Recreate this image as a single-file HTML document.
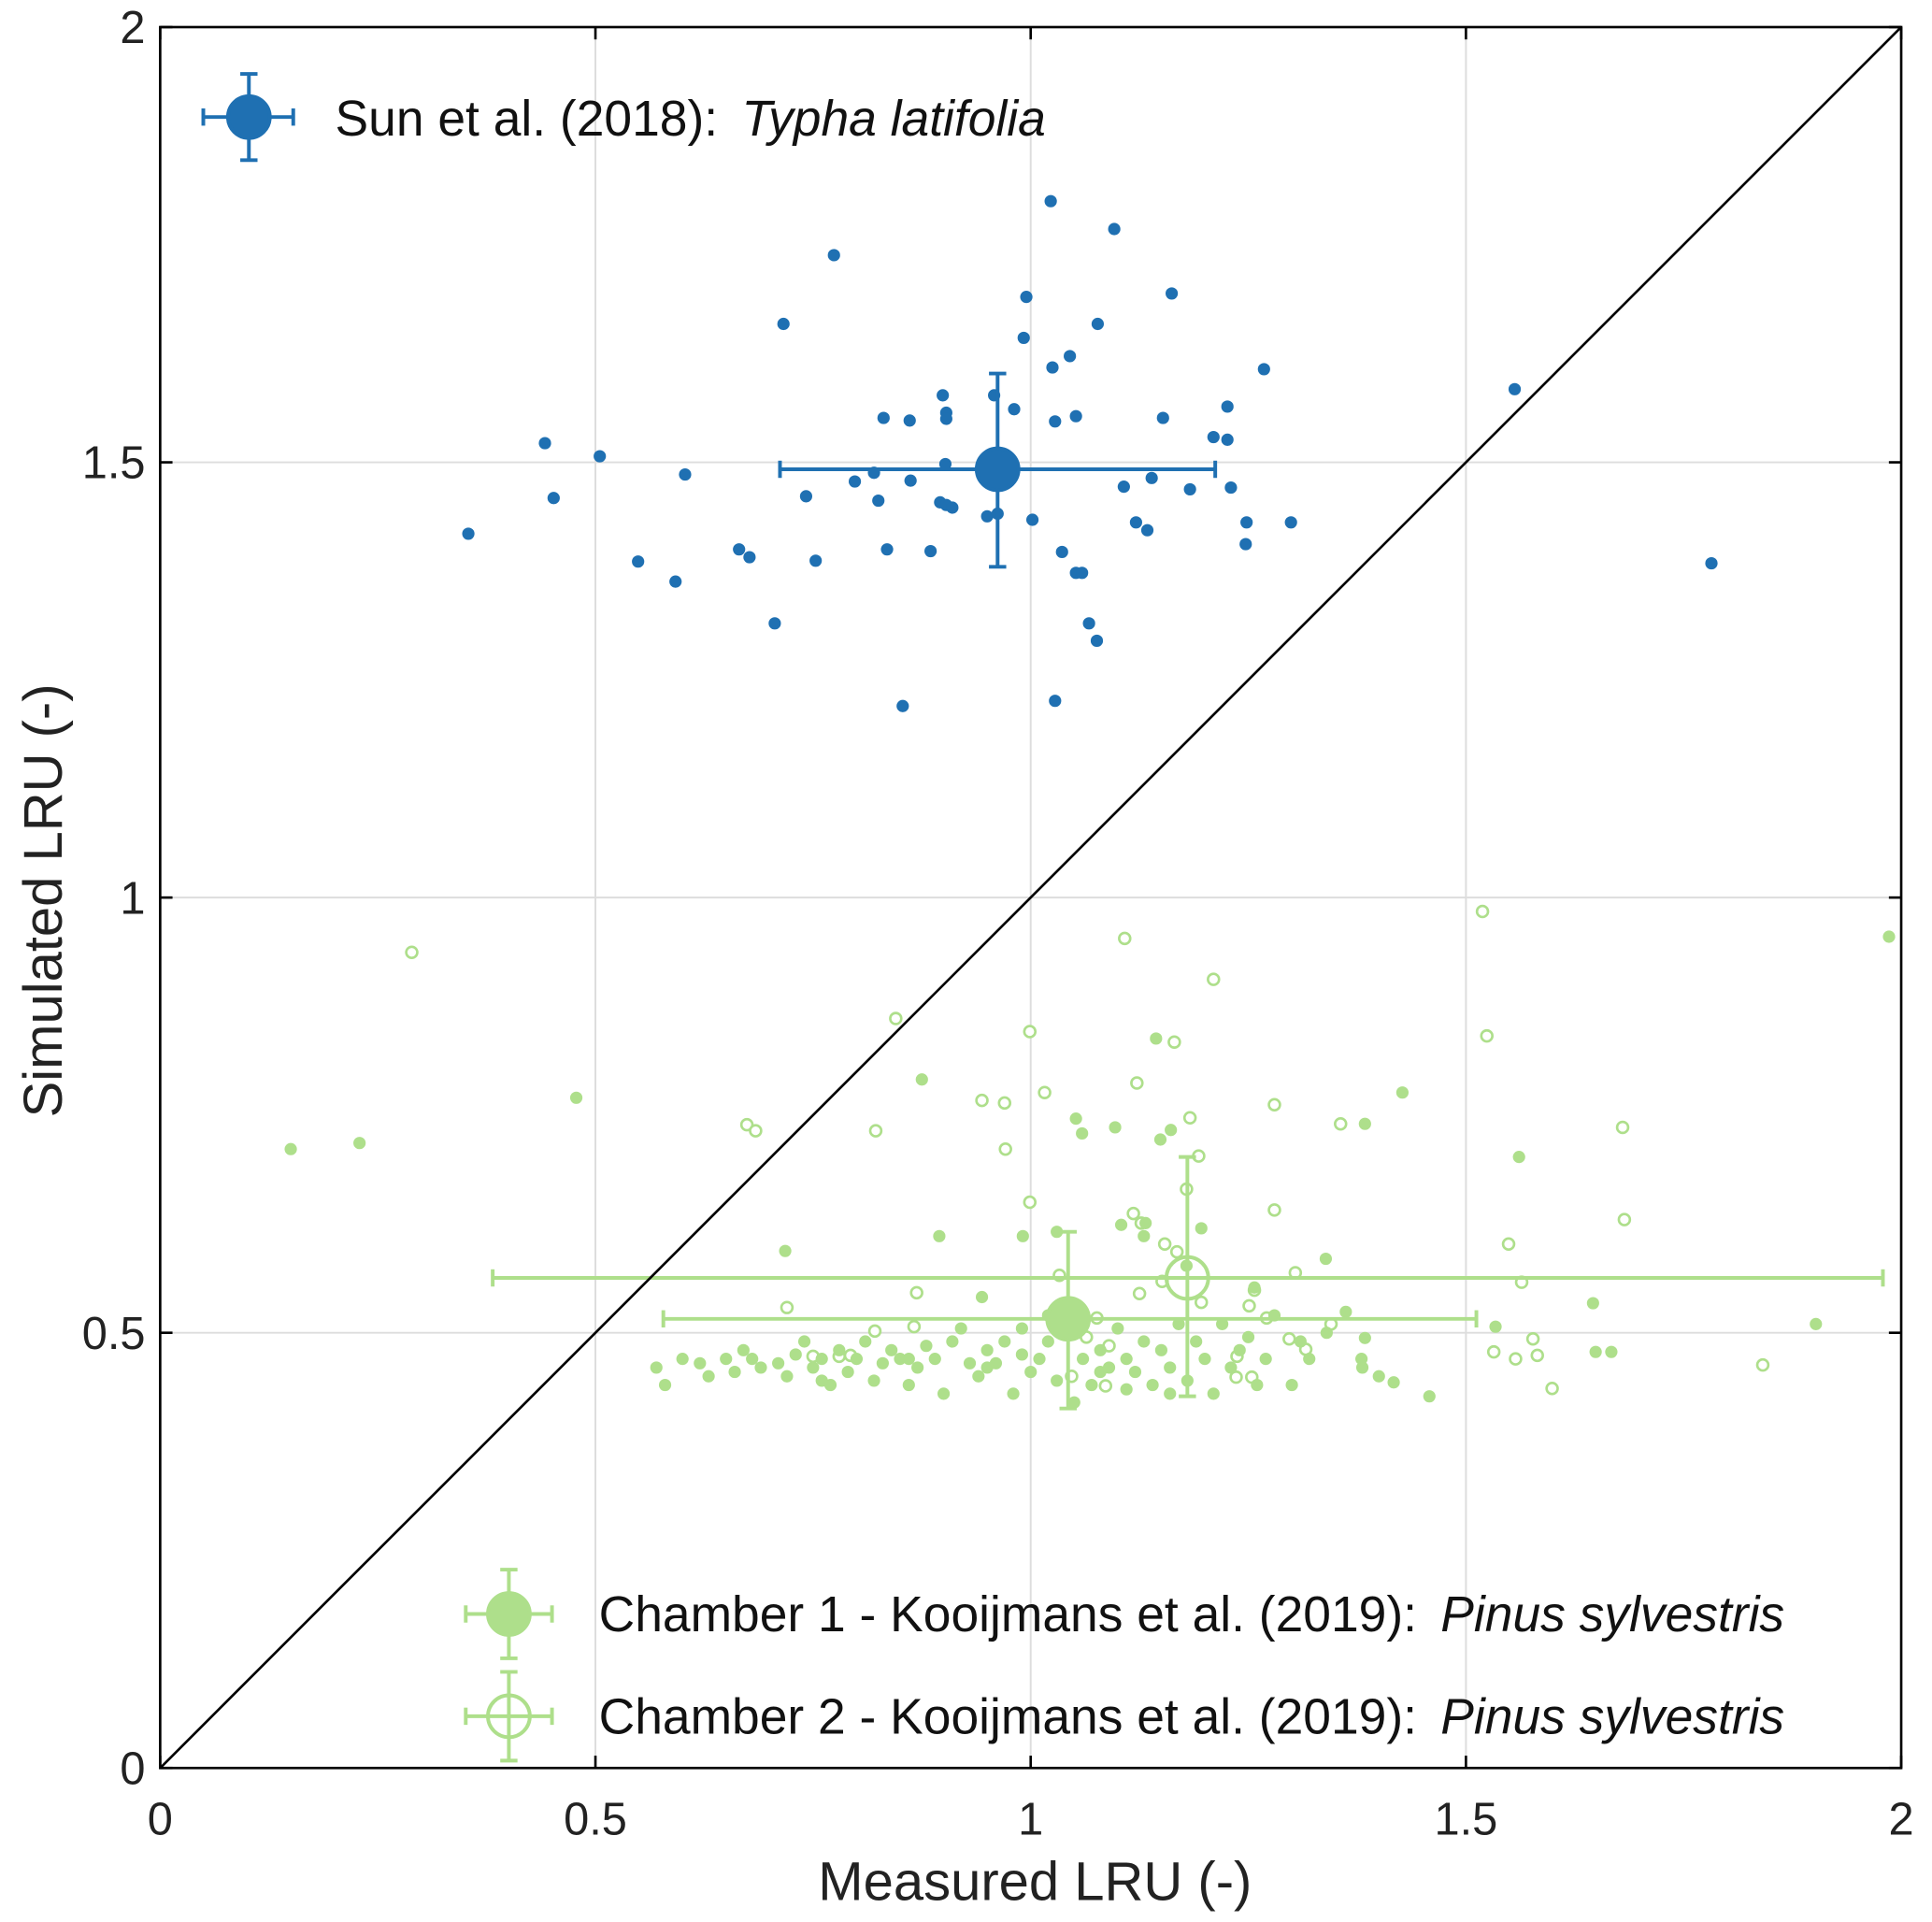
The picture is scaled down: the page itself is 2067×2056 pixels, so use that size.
<!DOCTYPE html>
<html><head><meta charset="utf-8"><style>
html,body{margin:0;padding:0;background:#fff;}
svg{display:block;font-family:"Liberation Sans",Arial,sans-serif;}
</style></head><body>
<svg id="chart" width="2067" height="2056" viewBox="0 0 1568 1560" preserveAspectRatio="none" xmlns="http://www.w3.org/2000/svg">
<g id="grid"></g>
<g id="series"></g>
<g id="axes"></g>
<g id="legend"></g>
</svg>
<script>
const xTicks=[0,0.5,1,1.5,2];
const yTicks=[0,0.5,1,1.5,2];
const xTickLabels=["0","0.5","1","1.5","2"];
const yTickLabels=["0","0.5","1","1.5","2"];
const sunX=[0.354,0.442,0.452,0.505,0.549,0.592,0.603,0.665,0.677,0.706,0.716,0.742,0.753,0.774,0.798,0.820,0.825,0.831,0.835,0.853,0.861,0.862,0.885,0.899,0.903,0.903,0.902,0.896,0.903,0.910,0.950,0.958,0.962,0.981,0.992,0.995,1.002,1.025,1.028,1.028,1.036,1.045,1.052,1.052,1.059,1.067,1.076,1.077,1.096,1.107,1.121,1.134,1.139,1.152,1.162,1.183,1.210,1.226,1.226,1.230,1.248,1.247,1.268,1.299,1.556,1.782,1.023];
const sunY=[1.418,1.522,1.459,1.507,1.386,1.363,1.486,1.400,1.391,1.315,1.659,1.461,1.387,1.738,1.478,1.488,1.456,1.551,1.400,1.220,1.548,1.479,1.398,1.577,1.557,1.550,1.498,1.454,1.451,1.448,1.438,1.577,1.441,1.561,1.643,1.690,1.434,1.609,1.547,1.226,1.397,1.622,1.553,1.373,1.373,1.315,1.295,1.659,1.768,1.472,1.431,1.422,1.482,1.551,1.694,1.469,1.529,1.564,1.526,1.471,1.431,1.406,1.607,1.431,1.584,1.384,1.800];
const sunMean=[0.962,1.492];const sunXErr=[0.712,1.212];const sunYErr=[1.380,1.602];
const c1X=[0.150,0.229,0.478,0.718,0.875,0.895,0.944,0.991,1.030,1.052,1.059,1.097,1.104,1.144,1.149,1.161,1.196,1.130,1.132,1.179,1.257,1.339,1.427,1.384,1.534,1.561,1.646,1.649,1.667,1.902,1.986,1.362,1.417,1.381,1.458,1.384,
0.57,0.58,0.62,0.65,0.66,0.68,0.69,0.71,0.72,0.74,0.75,0.76,0.78,0.79,0.80,0.81,0.82,0.83,0.84,0.85,0.86,0.87,0.88,0.89,0.90,0.91,0.92,0.93,0.94,0.95,0.96,0.97,0.98,0.99,1.00,1.01,1.02,1.03,1.04,1.05,1.06,1.07,1.08,1.09,1.10,1.11,1.12,1.13,1.14,1.15,1.16,1.17,1.18,1.19,1.20,1.21,1.22,1.23,1.24,1.25,1.26,1.27,1.28,1.30,1.31,1.32,1.34,1.38,1.40,0.60,0.63,0.67,0.73,0.77,1.05,1.02,0.99,0.95,1.11,1.16,0.76,0.86,1.08];
const c1Y=[0.711,0.718,0.770,0.594,0.791,0.611,0.541,0.611,0.616,0.746,0.729,0.736,0.624,0.838,0.722,0.733,0.620,0.611,0.626,0.577,0.552,0.585,0.776,0.740,0.507,0.702,0.534,0.478,0.478,0.510,0.955,0.524,0.443,0.460,0.427,0.494,
0.46,0.44,0.465,0.47,0.455,0.47,0.46,0.465,0.45,0.49,0.46,0.47,0.48,0.455,0.47,0.49,0.445,0.465,0.48,0.47,0.44,0.46,0.485,0.47,0.43,0.49,0.505,0.465,0.45,0.48,0.465,0.49,0.43,0.475,0.455,0.47,0.49,0.445,0.53,0.50,0.47,0.44,0.48,0.46,0.505,0.47,0.455,0.49,0.44,0.48,0.46,0.51,0.445,0.49,0.47,0.43,0.51,0.46,0.48,0.495,0.44,0.47,0.52,0.44,0.49,0.47,0.50,0.47,0.45,0.47,0.45,0.48,0.475,0.44,0.42,0.52,0.505,0.46,0.435,0.43,0.445,0.47,0.455];
const c1Mean=[1.043,0.516];const c1XErr=[0.578,1.512];const c1YErr=[0.413,0.616];
const c2X=[0.289,0.674,0.684,0.845,0.822,0.869,0.944,0.970,0.971,0.999,1.016,0.999,1.108,1.122,1.127,1.165,1.168,1.193,1.210,1.183,1.280,1.280,1.304,1.356,1.519,1.524,1.549,1.564,1.577,1.582,1.599,1.532,1.557,1.680,1.682,1.841,0.720,0.780,0.866,1.237,1.257,1.179,1.345,1.316,1.271,1.251,1.297,1.236,1.254,1.196,1.151,1.125,1.076,1.064,1.086,1.047,1.090,1.033,1.154,1.118,0.750,0.793,0.821];
const c2Y=[0.937,0.739,0.732,0.861,0.732,0.546,0.767,0.764,0.711,0.846,0.776,0.650,0.953,0.787,0.626,0.834,0.593,0.703,0.906,0.747,0.762,0.641,0.569,0.740,0.984,0.841,0.602,0.558,0.493,0.474,0.436,0.478,0.470,0.736,0.630,0.463,0.529,0.473,0.507,0.473,0.549,0.665,0.510,0.481,0.517,0.531,0.493,0.449,0.449,0.535,0.559,0.545,0.517,0.495,0.439,0.450,0.485,0.566,0.602,0.637,0.473,0.474,0.502];
const c2Mean=[1.180,0.563];const c2XErr=[0.382,1.979];const c2YErr=[0.427,0.702];

const NS="http://www.w3.org/2000/svg";
const L=130,S=706.5;
function X(v){return L+v*S;}
function Y(v){return 1435-v*S;}
function mk(tag,attrs,parent){const e=document.createElementNS(NS,tag);for(const k in attrs)e.setAttribute(k,attrs[k]);parent.appendChild(e);return e;}
const grid=document.getElementById('grid'),series=document.getElementById('series'),axes=document.getElementById('axes'),legend=document.getElementById('legend');
const BLUE="#1f70b2",GREEN="#aedf8b";
xTicks.forEach((v,i)=>{
  if(v>0&&v<2){const g=mk('line',{x1:X(v),x2:X(v),y1:Y(0),y2:Y(2),stroke:'#dddddd','stroke-width':1.5},grid);
  
  }
  const t1=mk('line',{x1:X(v),x2:X(v),y1:Y(0),y2:Y(0)-10,stroke:'#000','stroke-width':2},axes);
  
  
  const t2=mk('line',{x1:X(v),x2:X(v),y1:Y(2),y2:Y(2)+10,stroke:'#000','stroke-width':2},axes);
  
  
  const tx=mk('text',{x:X(v),y:1489,'text-anchor':'middle','font-size':37,fill:'#222'},axes);
  tx.textContent=xTickLabels[i];
  
  
});
yTicks.forEach((v,i)=>{
  if(v>0&&v<2){const g=mk('line',{x1:X(0),x2:X(2),y1:Y(v),y2:Y(v),stroke:'#dddddd','stroke-width':1.5},grid);
  
  }
  const t1=mk('line',{x1:X(0),x2:X(0)+10,y1:Y(v),y2:Y(v),stroke:'#000','stroke-width':2},axes);
  
  
  const t2=mk('line',{x1:X(2),x2:X(2)-10,y1:Y(v),y2:Y(v),stroke:'#000','stroke-width':2},axes);
  
  
  const tx=mk('text',{x:118,y:Y(v)+13,'text-anchor':'end','font-size':37,fill:'#222'},axes);
  tx.textContent=yTickLabels[i];
  
  
});
const box=mk('rect',{x:X(0),y:Y(2),width:X(2)-X(0),height:Y(0)-Y(2),fill:'none',stroke:'#000','stroke-width':2},axes);


const one=mk('line',{x1:X(0),y1:Y(0),x2:X(2),y2:Y(2),stroke:'#000','stroke-width':2},axes);


const xt=mk('text',{x:840,y:1542,'text-anchor':'middle','font-size':44,fill:'#222'},axes);
xt.textContent='Measured LRU (-)';


const yt=mk('text',{x:0,y:0,'text-anchor':'middle','font-size':44,fill:'#222',transform:'translate(50,731) rotate(-90)'},axes);
yt.textContent='Simulated LRU (-)';



c2X.forEach((v,i)=>{const c=mk('circle',{cx:X(v),cy:Y(c2Y[i]),r:4.5,fill:'#fff',stroke:GREEN,'stroke-width':2},series);

});
c1X.forEach((v,i)=>{const c=mk('circle',{cx:X(v),cy:Y(c1Y[i]),r:5,fill:GREEN},series);

});
sunX.forEach((v,i)=>{const c=mk('circle',{cx:X(v),cy:Y(sunY[i]),r:5,fill:BLUE},series);

});

function errMarker(parent,cx,cy,x1,x2,y1,y2,col,filled,name){
  const g=mk('g',{},parent);
  
  
  const a={stroke:col,'stroke-width':3};
  mk('line',Object.assign({x1:x1,x2:x2,y1:cy,y2:cy},a),g);
  mk('line',Object.assign({x1:cx,x2:cx,y1:y1,y2:y2},a),g);
  mk('line',Object.assign({x1:x1,x2:x1,y1:cy-7,y2:cy+7},a),g);
  mk('line',Object.assign({x1:x2,x2:x2,y1:cy-7,y2:cy+7},a),g);
  mk('line',Object.assign({x1:cx-7,x2:cx+7,y1:y1,y2:y1},a),g);
  mk('line',Object.assign({x1:cx-7,x2:cx+7,y1:y2,y2:y2},a),g);
  mk('circle',{cx:cx,cy:cy,r:17,fill:filled?col:'none',stroke:col,'stroke-width':3},g);
}
errMarker(series,X(c2Mean[0]),Y(c2Mean[1]),X(c2XErr[0]),X(c2XErr[1]),Y(c2YErr[0]),Y(c2YErr[1]),GREEN,false,'chamber2-mean');
errMarker(series,X(c1Mean[0]),Y(c1Mean[1]),X(c1XErr[0]),X(c1XErr[1]),Y(c1YErr[0]),Y(c1YErr[1]),GREEN,true,'chamber1-mean');
errMarker(series,X(sunMean[0]),Y(sunMean[1]),X(sunXErr[0]),X(sunXErr[1]),Y(sunYErr[0]),Y(sunYErr[1]),BLUE,true,'sun-mean');

errMarker(legend,202,95,165,238,60,130,BLUE,true,'legend-sun-marker');
errMarker(legend,413,1310,378,448,1274,1346,GREEN,true,'legend-chamber1-marker');
errMarker(legend,413,1393,378,448,1357,1429,GREEN,false,'legend-chamber2-marker');
function legText(x,y,pre,it,name){
  const t=mk('text',{x:x,y:y,'font-size':40.5,fill:'#111'},legend);
  
  
  const a=mk('tspan',{},t);a.textContent=pre;
  const b=mk('tspan',{'font-style':'italic','dx':8},t);b.textContent=it;
}
legText(272,110,'Sun et al. (2018): ','Typha latifolia','legend-sun-label');
legText(486,1324,'Chamber 1 - Kooijmans et al. (2019): ','Pinus sylvestris','legend-chamber1-label');
legText(486,1407,'Chamber 2 - Kooijmans et al. (2019): ','Pinus sylvestris','legend-chamber2-label');
</script>
</body></html>
